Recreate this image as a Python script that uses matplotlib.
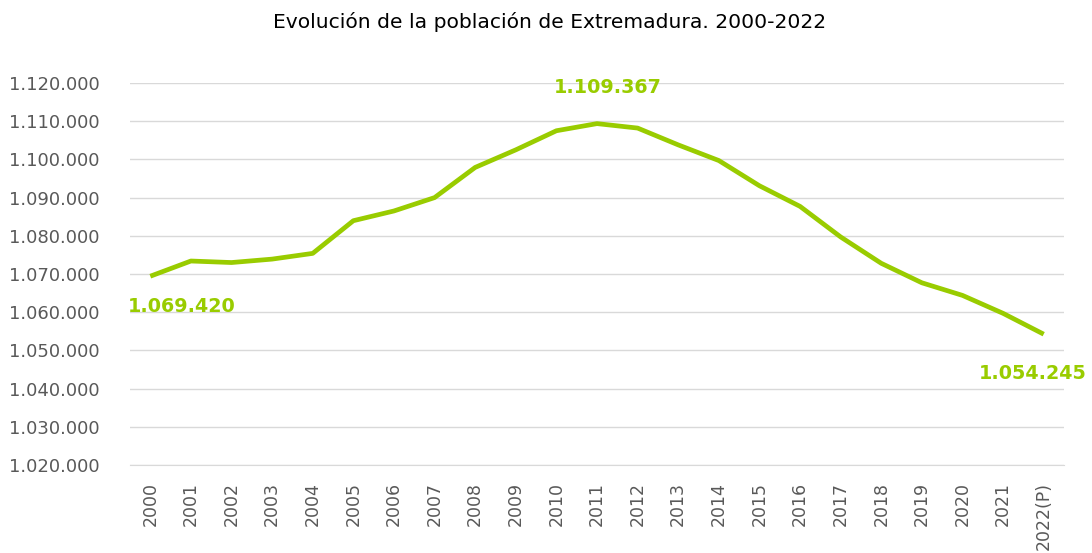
from matplotlib import pyplot as plt
from matplotlib.ticker import FuncFormatter

years = ['2000', '2001', '2002', '2003', '2004', '2005', '2006', '2007', '2008',
         '2009', '2010', '2011', '2012', '2013', '2014', '2015', '2016', '2017',
         '2018', '2019', '2020', '2021', '2022(P)']
poblacion = [1069420, 1073400, 1073000, 1073900, 1075400, 1083950, 1086500,
             1090000, 1097900, 1102500, 1107500, 1109367, 1108200, 1103800,
             1099700, 1093100, 1087700, 1079700, 1072800, 1067700, 1064400,
             1059700, 1054245]
# labelled points: index, text offset (points), alignment
destacados = [(0, (-16, -22), 'left'), (11, (8, 26), 'center'), (22, (-47, -28), 'left')]

verde = '#99CC00'
gris = '#595959'

def miles(v, pos=None):
    return f'{int(round(v)):,}'.replace(',', '.')

fig = plt.figure(figsize=(10.92, 5.53), dpi=100)
ax = fig.add_axes([130 / 1092, 1 - 465 / 553, 934 / 1092, 382 / 553])

x = range(len(years))
ax.plot(x, poblacion, color=verde, linewidth=3.4, solid_capstyle='butt', zorder=3)

for i, off, ha in destacados:
    ax.annotate(miles(poblacion[i]), (i, poblacion[i]), xytext=off,
                textcoords='offset points', ha=ha, va='center',
                color=verde, fontsize=13.8, fontweight='bold', annotation_clip=False)

ax.set_xlim(-0.5, len(years) - 0.5)
ax.set_ylim(1020000, 1120000)
ax.set_yticks(range(1020000, 1120001, 10000))
ax.yaxis.set_major_formatter(FuncFormatter(miles))
ax.set_xticks(list(x))
ax.set_xticklabels(years, rotation=90)
ax.tick_params(axis='y', length=0, labelsize=13, labelcolor=gris, pad=22)
ax.tick_params(axis='x', length=0, labelsize=12.5, labelcolor=gris, pad=12)
ax.grid(axis='y', color='#d9d9d9', linewidth=1)
ax.set_axisbelow(True)
for s in ['top', 'right', 'left']:
    ax.spines[s].set_visible(False)
ax.spines['bottom'].set_color('#d9d9d9')

fig.text(550 / 1092, 1 - 22 / 553, 'Evolución de la población de Extremadura. 2000-2022',
         ha='center', va='center', fontsize=14.6, color='#000000')

fig.savefig('out.png', dpi=100)
